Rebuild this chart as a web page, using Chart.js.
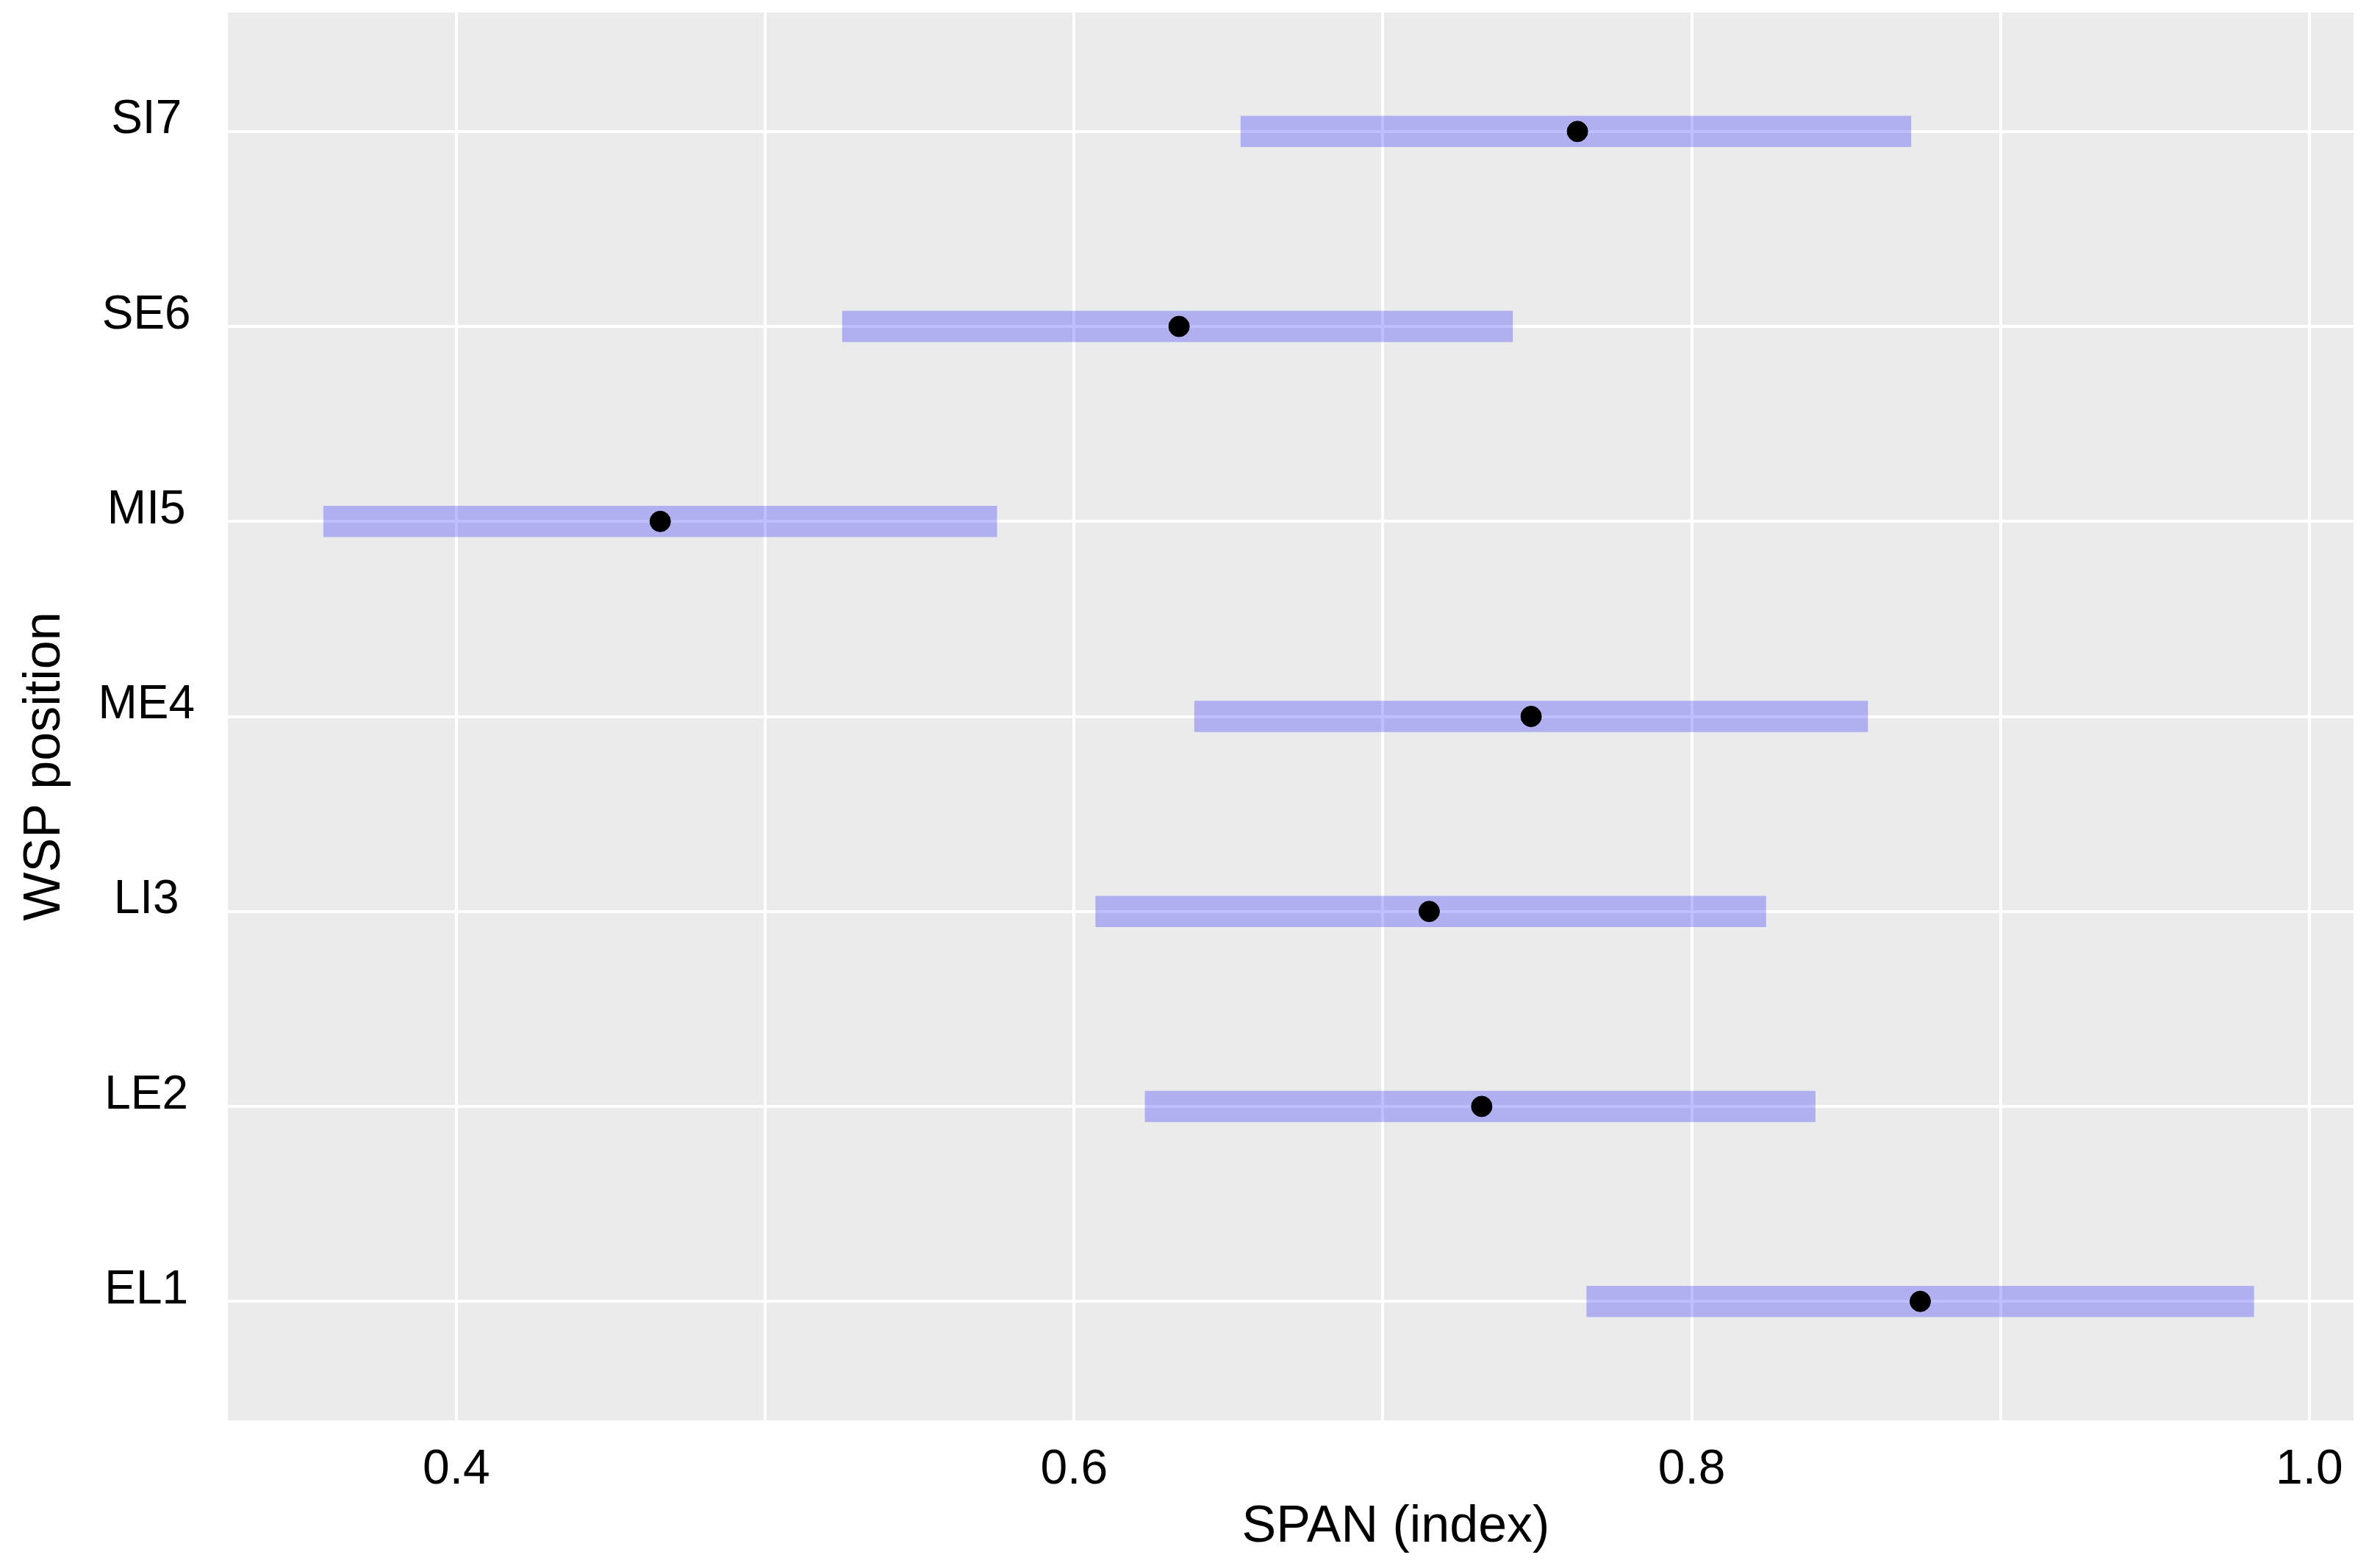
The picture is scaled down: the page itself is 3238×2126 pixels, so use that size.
<!DOCTYPE html>
<html>
<head>
<meta charset="utf-8">
<script src="https://cdn.jsdelivr.net/npm/chart.js@4.4.0/dist/chart.umd.min.js"></script>
<style>
  body { margin: 0; background: #ffffff; }
  #wrap { width: 3238px; height: 2126px; }
</style>
</head>
<body>
<div id="wrap"><canvas id="mainchart" width="3238" height="2126"></canvas></div>
<script>
// WSP positions, bottom to top
var categories = ['EL1', 'LE2', 'LI3', 'ME4', 'MI5', 'SE6', 'SI7'];
var lowVals  = [0.766, 0.623, 0.607, 0.639, 0.357, 0.525, 0.654];
var highVals = [0.982, 0.840, 0.824, 0.857, 0.575, 0.742, 0.871];
var midVals  = [0.874, 0.732, 0.715, 0.748, 0.466, 0.634, 0.763];

var xGridValues = [0.4, 0.5, 0.6, 0.7, 0.8, 0.9, 1.0];
var xTickLabels = ['0.4', '', '0.6', '', '0.8', '', '1.0'];

var xTitle = 'SPAN (index)';
var yTitle = 'WSP position';

var fontFamily = '"Liberation Sans", Arial, sans-serif';

var panelBg = {
    id: 'panelBg',
    beforeDraw: function (chart) {
        var a = chart.chartArea;
        var c = chart.ctx;
        c.save();
        c.fillStyle = '#ebebeb';
        c.fillRect(a.left, a.top, a.right - a.left, a.bottom - a.top);
        c.restore();
    }
};

// axis titles, drawn a bit off the panel centre like the original
var axisTitles = {
    id: 'axisTitles',
    afterDraw: function (chart) {
        var a = chart.chartArea;
        var c = chart.ctx;
        c.save();
        c.fillStyle = '#000000';
        c.font = '70px ' + fontFamily;
        c.textAlign = 'center';
        c.textBaseline = 'middle';
        c.fillText(xTitle, (a.left + a.right) / 2 + 143, chart.height - 48);
        c.translate(62, (a.top + a.bottom) / 2 + 68);
        c.rotate(-Math.PI / 2);
        c.fillText(yTitle, 0, 0);
        c.restore();
    }
};

var ctx = document.getElementById('mainchart').getContext('2d');
var chart = new Chart(ctx, {
    type: 'bar',
    data: {
        datasets: [{
                type: 'scatter',
                label: 'SPAN',
                data: categories.map(function (c, i) { return {x: midVals[i], y: i}; }),
                backgroundColor: '#000000',
                borderColor: '#000000',
                pointRadius: 14,
                pointHoverRadius: 14,
                order: 0
            },
            {
                type: 'bar',
                label: 'range',
                indexAxis: 'y',
                data: categories.map(function (c, i) { return {x: [lowVals[i], highVals[i]], y: i}; }),
                backgroundColor: 'rgba(0, 0, 255, 0.25)',
                borderWidth: 0,
                barThickness: 42,
                order: 1
            }]
    },
    options: {
        responsive: false,
        animation: false,
        devicePixelRatio: 1,
        layout: {padding: {top: 17, right: 36, left: 0, bottom: 0}},
        plugins: {legend: {display: false}, tooltip: {enabled: false}},
        scales: {
            x: {
                type: 'linear',
                offset: false,
                min: 0.326,
                max: 1.0143,
                afterBuildTicks: function (scale) {
                    scale.ticks = xGridValues.map(function (v) { return {value: v}; });
                },
                afterFit: function (scale) {
                    scale.height = 194;
                    scale.paddingLeft = 0;
                    scale.paddingRight = 0;
                },
                grid: {color: '#ffffff', lineWidth: 4, drawTicks: false, offset: false},
                border: {display: false},
                ticks: {
                    color: '#000000',
                    font: {family: fontFamily, size: 66},
                    padding: 28,
                    maxRotation: 0,
                    autoSkip: false,
                    callback: function (v, i) { return xTickLabels[i]; }
                },
                title: {display: false}
            },
            y: {
                type: 'linear',
                offset: false,
                min: -0.61,
                max: 6.61,
                afterBuildTicks: function (scale) {
                    scale.ticks = categories.map(function (c, i) { return {value: i}; });
                },
                afterFit: function (scale) {
                    scale.width = 310;
                    scale.paddingTop = 0;
                    scale.paddingBottom = 0;
                },
                grid: {color: '#ffffff', lineWidth: 4, drawTicks: false, offset: false},
                border: {display: false},
                ticks: {
                    color: '#000000',
                    font: {family: fontFamily, size: 64},
                    crossAlign: 'center',
                    padding: 45,
                    labelOffset: -15,
                    autoSkip: false,
                    callback: function (v) { return categories[v]; }
                },
                title: {display: false}
            }
        }
    },
    plugins: [panelBg, axisTitles]
});
</script>
</body>
</html>
